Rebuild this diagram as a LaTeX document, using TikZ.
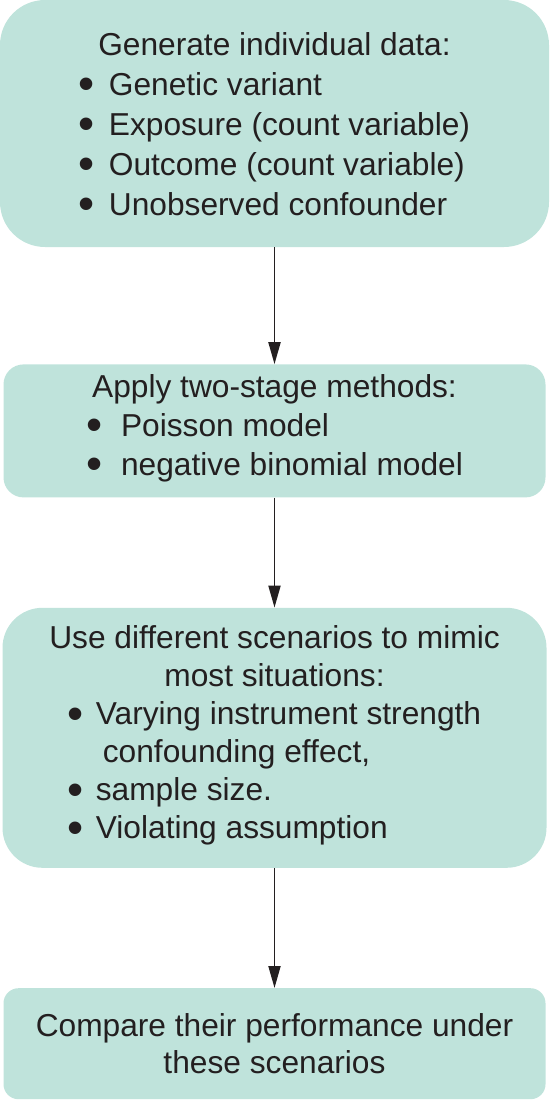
\documentclass[tikz,border=0pt]{standalone}
\usepackage{fontspec}
\setmainfont{Liberation Sans}
\usetikzlibrary{arrows.meta,positioning}

\definecolor{boxteal}{RGB}{191,227,219}
\definecolor{inkdark}{RGB}{35,31,32}
\newcommand{\itemdot}[1][30pt]{\makebox[#1][l]{\raisebox{-4.5pt}{\scalebox{1.45}{\textbullet}}}\ignorespaces}

\begin{document}
\begin{tikzpicture}[
    x=1pt, y=-1pt,
    flowbox/.style={rectangle, fill=boxteal, inner sep=0pt, text=inkdark, align=center,
        font=\fontsize{31.7}{39}\selectfont},
    arrow/.style={-{Triangle[length=22pt, width=12pt]}, line width=1.9pt, draw=inkdark}
]
\useasboundingbox (0,0) rectangle (550,1100);

% data generation
\node[flowbox, minimum width=549pt, minimum height=247pt, rounded corners=45pt,
    font=\fontsize{31.7}{40}\selectfont] (gendata) at (274.5,123.5) {%
\begin{tabular}{@{}l@{}}
\multicolumn{1}{@{}c@{}}{Generate individual data:}\\
\itemdot Genetic variant\\
\itemdot Exposure (count variable)\\
\itemdot Outcome (count variable)\\
\itemdot Unobserved confounder\\[-7pt]
\end{tabular}};

% two-stage methods
\node[flowbox, minimum width=542pt, minimum height=133pt, rounded corners=20pt,
    below=117pt of gendata] (twostage) {%
\begin{tabular}{@{}l@{}}
\multicolumn{1}{@{}c@{}}{Apply two-stage methods:}\\
\itemdot[35pt] Poisson model\\
\itemdot[35pt] negative binomial model\\[5pt]
\end{tabular}};

% scenarios
\node[flowbox, minimum width=544pt, minimum height=260pt, rounded corners=40pt,
    font=\fontsize{31.7}{38}\selectfont, below=110pt of twostage] (scenarios) {%
Use different scenarios to mimic\\
most situations:\\
\begin{tabular}[t]{@{}l@{}}
\itemdot[28pt] Varying instrument strength\\
\hspace*{35pt}confounding effect,\\
\itemdot[28pt] sample size.\\
\itemdot[28pt] Violating assumption
\end{tabular}};

% comparison
\node[flowbox, minimum width=542pt, minimum height=111pt, rounded corners=15pt,
    font=\fontsize{31.7}{37}\selectfont, below=120pt of scenarios] (compare)
    {Compare their performance under\\these scenarios};

% connectors
\draw[arrow] (gendata) -- (twostage);
\draw[arrow] (twostage) -- (scenarios);
\draw[arrow] (scenarios) -- (compare);

\end{tikzpicture}
\end{document}
